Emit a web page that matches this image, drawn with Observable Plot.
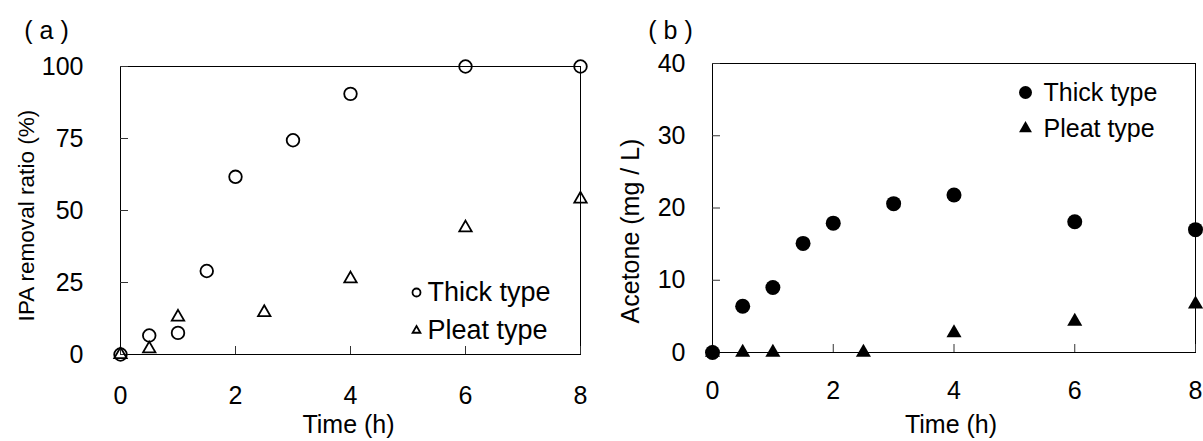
<!DOCTYPE html>
<html>
<head>
<meta charset="utf-8">
<script src="https://cdn.jsdelivr.net/npm/d3@7"></script>
<script src="https://cdn.jsdelivr.net/npm/@observablehq/plot@0.6"></script>
<style>
  body { margin: 0; background: #fff; }
  #wrap { position: relative; width: 1203px; height: 441px; overflow: hidden; }
  #wrap > svg { position: absolute; top: 0; }
</style>
</head>
<body>
<div id="wrap"></div>
<script>
// Shared axis ticks
const timeTicks = [0, 2, 4, 6, 8];
const ipaTicks = [0, 25, 50, 75, 100];
const acetoneTicks = [0, 10, 20, 30, 40];
const seriesNames = ["Thick type", "Pleat type"];

// (a) IPA removal ratio (%)
const thickTimeA = [0, 0.5, 1, 1.5, 2, 3, 4, 6, 8];
const thickIPA = [0, 6.6, 7.5, 29, 61.7, 74.4, 90.5, 100, 100];
const pleatTimeA = [0, 0.5, 1, 2.5, 4, 6, 8];
const pleatIPA = [0, 2, 13, 14.6, 26.3, 44, 54];

// (b) Acetone (mg / L)
const thickTimeB = [0, 0.5, 1, 1.5, 2, 3, 4, 6, 8];
const thickAcetone = [0, 6.4, 9.0, 15.1, 17.9, 20.6, 21.8, 18.1, 17.0];
const pleatTimeB = [0, 0.5, 1, 2.5, 4, 6, 8];
const pleatAcetone = [0, 0, 0, 0, 2.7, 4.3, 6.7];

const FONT = '"Liberation Sans", Arial, sans-serif';
const FS = 25;

const rows = (xs, ys) => xs.map((t, i) => ({t, v: ys[i]}));

function markerStyles(filled, circleR, triR) {
  return filled
    ? [{fill: "black", stroke: "none", r: circleR},
       {fill: "black", stroke: "none", r: triR, symbol: "triangle"}]
    : [{fill: "none", stroke: "black", strokeWidth: 1.8, r: circleR},
       {fill: "none", stroke: "black", strokeWidth: 1.8, r: triR, symbol: "triangle"}];
}

function panel(cfg) {
  const plotW = cfg.width - cfg.mL - cfg.mR;
  const plotH = cfg.height - cfg.mT - cfg.mB;
  const [thickStyle, pleatStyle] = markerStyles(cfg.filled, cfg.circleR, cfg.triR);
  const lg = cfg.legend;
  const [thickKey, pleatKey] = markerStyles(cfg.filled, lg.circleR, lg.triR);
  const lgText = {frameAnchor: lg.anchor, dx: lg.dx + lg.gap, text: d => d, textAnchor: "start", lineAnchor: "middle", fontSize: lg.fontSize};
  return Plot.plot({
    width: cfg.width,
    height: cfg.height,
    marginLeft: cfg.mL,
    marginRight: cfg.mR,
    marginTop: cfg.mT,
    marginBottom: cfg.mB,
    style: {fontFamily: FONT, fontSize: FS + "px", color: "black", background: "transparent", overflow: "visible"},
    x: {domain: [0, 8]},
    y: {domain: cfg.yDomain},
    marks: [
      Plot.frame({stroke: "black", strokeWidth: 1}),
      // inward tick marks
      Plot.ruleX(timeTicks, {x: d => d, insetTop: plotH - 8, stroke: "#333"}),
      Plot.ruleY(cfg.yTicks, {y: d => d, insetRight: plotW - 8, stroke: "#333"}),
      Plot.axisX({ticks: timeTicks, tickSize: 0, tickPadding: cfg.xPad, label: null, fontSize: FS}),
      Plot.axisY({ticks: cfg.yTicks, tickSize: 0, tickPadding: cfg.yPad, label: null, fontSize: FS}),
      // axis titles and panel tag
      Plot.text(["Time (h)"], {frameAnchor: "bottom", dx: cfg.xTitleDx, dy: cfg.xTitleDy, text: d => d,
        textAnchor: "middle", lineAnchor: "middle", fontSize: FS}),
      Plot.text([cfg.yLabel], {frameAnchor: "left", dx: cfg.yTitleDx, dy: cfg.yTitleDy, rotate: -90, text: d => d,
        textAnchor: "middle", lineAnchor: "middle", fontSize: cfg.yTitleSize}),
      Plot.text([cfg.tag], {frameAnchor: "top-left", dx: cfg.tagDx, dy: cfg.tagDy, text: d => d,
        textAnchor: "middle", lineAnchor: "middle", fontSize: FS}),
      // data
      Plot.dot(rows(cfg.pleatT, cfg.pleatV), {x: "t", y: "v", ...pleatStyle}),
      Plot.dot(rows(cfg.thickT, cfg.thickV), {x: "t", y: "v", ...thickStyle}),
      // legend
      Plot.dot([seriesNames[0]], {frameAnchor: lg.anchor, dx: lg.dx, dy: lg.dy1, ...thickKey}),
      Plot.dot([seriesNames[1]], {frameAnchor: lg.anchor, dx: lg.dx, dy: lg.dy2, ...pleatKey}),
      Plot.text([seriesNames[0]], {...lgText, dy: lg.dy1}),
      Plot.text([seriesNames[1]], {...lgText, dy: lg.dy2})
    ]
  });
}

const chartA = panel({
  width: 600, height: 441, mL: 120, mR: 20, mT: 66, mB: 87,
  yDomain: [0, 100], yTicks: ipaTicks, yLabel: "IPA removal ratio (%)",
  tag: "( a )", tagDx: -74, tagDy: -36,
  xPad: 32, yPad: 37,
  xTitleDx: -2, xTitleDy: 70, yTitleDx: -94, yTitleDy: 5, yTitleSize: 22.6,
  thickT: thickTimeA, thickV: thickIPA, pleatT: pleatTimeA, pleatV: pleatIPA,
  filled: false, circleR: 6.3, triR: 4.6,
  legend: {anchor: "bottom-right", dx: -164, dy1: -62, dy2: -24, gap: 11, fontSize: 27, circleR: 4, triR: 2.9}
});

const chartB = panel({
  width: 603, height: 441, mL: 112, mR: 8, mT: 63, mB: 89,
  yDomain: [0, 40], yTicks: acetoneTicks, yLabel: "Acetone (mg / L)",
  tag: "( b )", tagDx: -42, tagDy: -33,
  xPad: 29, yPad: 27,
  xTitleDx: -3, xTitleDy: 72, yTitleDx: -82, yTitleDy: 23, yTitleSize: 25,
  thickT: thickTimeB, thickV: thickAcetone, pleatT: pleatTimeB, pleatV: pleatAcetone,
  filled: true, circleR: 7.5, triR: 5.6,
  legend: {anchor: "top-right", dx: -170, dy1: 29, dy2: 65, gap: 18, fontSize: 25, circleR: 6.5, triR: 4.8}
});

const wrap = document.getElementById("wrap");
chartA.style.left = "0px";
chartB.style.left = "600px";
wrap.append(chartA, chartB);
</script>
</body>
</html>
